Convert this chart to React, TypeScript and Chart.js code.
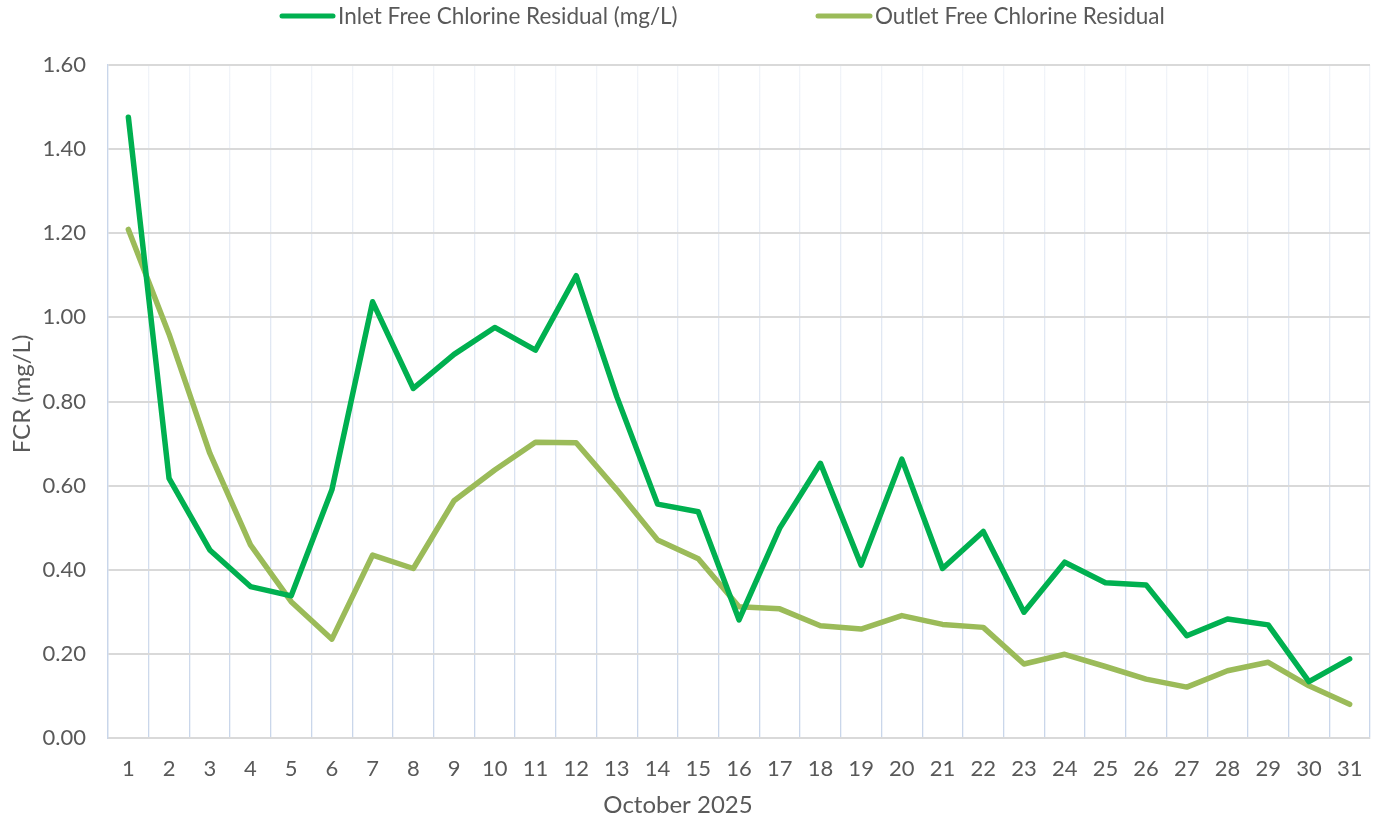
import React, { useEffect, useRef } from "react";
import { Chart, registerables } from "chart.js";

Chart.register(...registerables);

const days: string[] = Array.from({ length: 31 }, (_, i) => String(i + 1));
const inletLabel = "Inlet Free Chlorine Residual (mg/L)";
const outletLabel = "Outlet Free Chlorine Residual";
const inletValues: number[] = [
  1.476, 0.617, 0.447, 0.36, 0.338, 0.59, 1.037, 0.831, 0.912, 0.976, 0.922,
  1.099, 0.811, 0.556, 0.538, 0.281, 0.499, 0.653, 0.411, 0.663, 0.403, 0.491,
  0.299, 0.418, 0.369, 0.364, 0.243, 0.283, 0.269, 0.134, 0.188,
];
const outletValues: number[] = [
  1.209, 0.96, 0.677, 0.459, 0.324, 0.235, 0.435, 0.403, 0.564, 0.637, 0.703,
  0.702, 0.59, 0.471, 0.426, 0.312, 0.307, 0.267, 0.259, 0.291, 0.27, 0.263,
  0.176, 0.199, 0.17, 0.14, 0.121, 0.16, 0.18, 0.124, 0.08,
];
const xTitle = "October 2025";
const yTitle = "FCR (mg/L)";

const FONT = "Lato, 'Open Sans', sans-serif";
const TEXT = "#595959";

const overlayPlugin = {
  id: "overlayText",
  afterDraw(chart: any) {
    const ctx = chart.ctx as CanvasRenderingContext2D;
    ctx.save();
    ctx.fillStyle = TEXT;
    ctx.font = `22.5px ${FONT}`;
    // legend
    const legendPos = [
      { x1: 282, x2: 333, tx: 338 },
      { x1: 818, x2: 870, tx: 875 },
    ];
    chart.data.datasets.forEach((ds: any, i: number) => {
      const p = legendPos[i];
      ctx.strokeStyle = ds.borderColor;
      ctx.lineWidth = 5;
      ctx.lineCap = "round";
      ctx.beginPath();
      ctx.moveTo(p.x1, 16);
      ctx.lineTo(p.x2, 16);
      ctx.stroke();
      ctx.textAlign = "left";
      ctx.textBaseline = "middle";
      ctx.fillText(ds.label, p.tx, 17);
    });
    // axis titles
    ctx.font = `24px ${FONT}`;
    ctx.textAlign = "center";
    ctx.textBaseline = "middle";
    ctx.fillText(xTitle, 678, 805);
    ctx.translate(22, 394);
    ctx.rotate(-Math.PI / 2);
    ctx.fillText(yTitle, 0, 0);
    ctx.restore();
  },
};

export default function App() {
  const ref = useRef<HTMLCanvasElement | null>(null);
  useEffect(() => {
    if (!ref.current) return;
    const chart = new Chart(ref.current, {
      type: "line",
      data: {
        labels: days,
        datasets: [
          {
            label: inletLabel,
            data: inletValues,
            borderColor: "#00B050",
            backgroundColor: "#00B050",
            borderWidth: 5.5,
            pointRadius: 0,
            borderCapStyle: "round",
            borderJoinStyle: "round",
            tension: 0,
          },
          {
            label: outletLabel,
            data: outletValues,
            borderColor: "#9BBB59",
            backgroundColor: "#9BBB59",
            borderWidth: 5.5,
            pointRadius: 0,
            borderCapStyle: "round",
            borderJoinStyle: "round",
            tension: 0,
          },
        ],
      },
      options: {
        responsive: false,
        animation: false,
        layout: { padding: { top: 65, right: 12, left: 0, bottom: 0 } },
        plugins: {
          legend: { display: false },
          tooltip: { enabled: false },
        },
        scales: {
          x: {
            offset: true,
            afterFit: (s: any) => {
              s.height = 86;
            },
            grid: {
              offset: true,
              drawTicks: false,
              lineWidth: 1.3,
              color: (c: any) => {
                const area = c.chart.chartArea;
                if (!area) return "#D6DEEC";
                const g = c.chart.ctx.createLinearGradient(0, area.top, 0, area.bottom);
                g.addColorStop(0, "#F1F4F9");
                g.addColorStop(1, "#C9D6EA");
                return g;
              },
            },
            border: { display: true, color: "#D9D9D9", width: 2 },
            ticks: {
              color: TEXT,
              font: { family: FONT, size: 22 },
              padding: 18,
              maxRotation: 0,
              autoSkip: false,
            },
          },
          y: {
            min: 0,
            max: 1.6,
            afterFit: (s: any) => {
              s.width = 108;
            },
            grid: {
              drawTicks: false,
              color: "#D9D9D9",
              lineWidth: 2,
            },
            border: { display: true, color: "#C9D6EA", width: 1.3 },
            ticks: {
              stepSize: 0.2,
              color: TEXT,
              font: { family: FONT, size: 22 },
              padding: 22,
              callback: (v: any) => Number(v).toFixed(2),
            },
          },
        },
      },
      plugins: [overlayPlugin],
    });
    return () => chart.destroy();
  }, []);
  return (
    <div style={{ position: "absolute", left: 0, top: 0, width: 1382, height: 824, background: "#fff" }}>
      <canvas ref={ref} width={1382} height={824} style={{ display: "block" }} />
    </div>
  );
}
